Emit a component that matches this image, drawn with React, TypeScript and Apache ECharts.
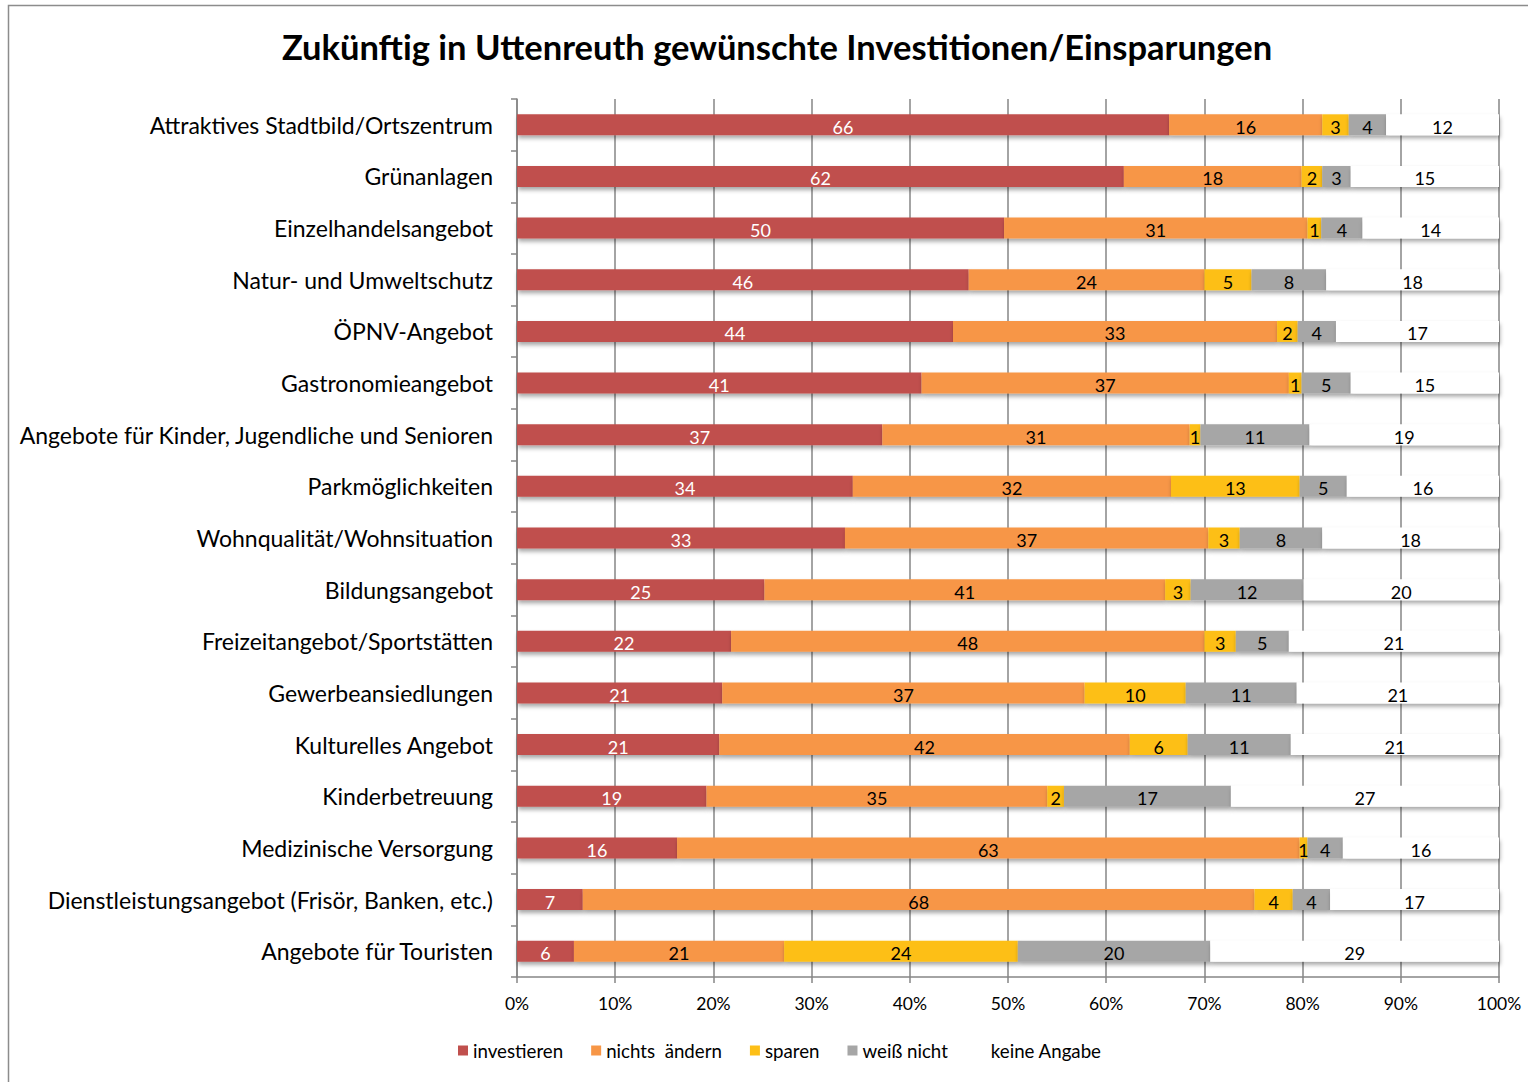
import React, { useEffect, useRef } from "react";
import * as echarts from "echarts";

const categories = [
  "Attraktives Stadtbild/Ortszentrum",
  "Grünanlagen",
  "Einzelhandelsangebot",
  "Natur- und Umweltschutz",
  "ÖPNV-Angebot",
  "Gastronomieangebot",
  "Angebote für Kinder, Jugendliche und Senioren",
  "Parkmöglichkeiten",
  "Wohnqualität/Wohnsituation",
  "Bildungsangebot",
  "Freizeitangebot/Sportstätten",
  "Gewerbeansiedlungen",
  "Kulturelles Angebot",
  "Kinderbetreuung",
  "Medizinische Versorgung",
  "Dienstleistungsangebot (Frisör, Banken, etc.)",
  "Angebote für Touristen",
];

const investieren = [66.4, 61.8, 49.6, 46.0, 44.4, 41.2, 37.2, 34.2, 33.4, 25.2, 21.8, 20.9, 20.6, 19.3, 16.3, 6.7, 5.8];
const nichtsAendern = [15.6, 18.1, 30.9, 24.0, 33.0, 37.4, 31.3, 32.4, 37.0, 40.8, 48.2, 36.9, 41.8, 34.7, 63.4, 68.4, 21.4];
const sparen = [2.7, 2.1, 1.4, 4.8, 2.1, 1.3, 1.1, 13.1, 3.2, 2.6, 3.2, 10.3, 5.9, 1.7, 0.8, 3.9, 23.8];
const weissNicht = [3.8, 2.9, 4.2, 7.6, 3.9, 5.0, 11.1, 4.8, 8.4, 11.5, 5.4, 11.3, 10.5, 17.0, 3.6, 3.8, 19.6];
const keineAngabe = [11.5, 15.1, 13.9, 17.6, 16.6, 15.1, 19.3, 15.5, 18.0, 19.9, 21.4, 20.6, 21.2, 27.3, 15.9, 17.2, 29.4];

const seriesNames = ["investieren", "nichts  ändern", "sparen", "weiß nicht", "keine Angabe"];
const seriesColors = ["#C0504D", "#F79646", "#FDBF17", "#A6A6A6", "#FFFFFF"];
const labelColors = ["#FFFFFF", "#000000", "#000000", "#000000", "#000000"];
const seriesData = [investieren, nichtsAendern, sparen, weissNicht, keineAngabe];

const FONT = "Lato";

export default function App() {
  const ref = useRef<HTMLDivElement>(null);

  useEffect(() => {
    if (!ref.current) return;
    const chart = echarts.init(ref.current, undefined, { renderer: "svg" });
    const gridColor = "#868686";
    chart.setOption({
      animation: false,
      backgroundColor: "#FFFFFF",
      textStyle: { fontFamily: FONT },
      title: {
        text: "Zukünftig in Uttenreuth gewünschte Investitionen/Einsparungen",
        left: 772,
        top: 24,
        textAlign: "center",
        textStyle: { fontFamily: FONT, fontSize: 34.5, fontWeight: "bold", color: "#000" },
      },
      graphic: [
        {
          type: "rect",
          shape: { x: 8.5, y: 5.5, width: 1700, height: 1300 },
          style: { fill: "none", stroke: "#8C8C8C", lineWidth: 1.5 },
          silent: true,
        },
      ],
      legend: {
        left: 458,
        top: 1041,
        padding: 0,
        icon: "rect",
        itemWidth: 10,
        itemHeight: 10,
        itemGap: 28,
        textStyle: { fontFamily: FONT, fontSize: 18.7, color: "#000" },
        data: seriesNames,
      },
      grid: { left: 517, right: 29, top: 99, bottom: 105, containLabel: false },
      xAxis: {
        type: "value",
        min: 0,
        max: 100,
        interval: 10,
        axisLine: { show: true, lineStyle: { color: gridColor, width: 1.5 } },
        axisTick: { show: true, length: 6, lineStyle: { color: gridColor, width: 1.5 } },
        splitLine: { show: true, lineStyle: { color: gridColor, width: 1.5 } },
        axisLabel: {
          formatter: "{value}%",
          fontFamily: FONT,
          fontSize: 17.5,
          color: "#000",
          margin: 17,
        },
      },
      yAxis: {
        type: "category",
        inverse: true,
        data: categories,
        axisLine: { show: true, lineStyle: { color: gridColor, width: 1.5 } },
        axisTick: { show: true, length: 6, lineStyle: { color: gridColor, width: 1.5 } },
        axisLabel: { fontFamily: FONT, fontSize: 23, color: "#000", margin: 24 },
      },
      series: seriesNames.map((name, i) => ({
        name,
        type: "bar",
        stack: "total",
        barWidth: 21,
        data: seriesData[i],
        itemStyle: {
          color: seriesColors[i],
          shadowBlur: 4,
          shadowColor: "rgba(0,0,0,0.35)",
          shadowOffsetX: 1,
          shadowOffsetY: 3,
        },
        label: {
          show: true,
          position: "inside",
          offset: [0, 2],
          fontFamily: FONT,
          fontSize: 18,
          color: labelColors[i],
          formatter: (p: any) => String(Math.round(p.value)),
        },
      })),
    });
    return () => chart.dispose();
  }, []);

  return (
    <div
      ref={ref}
      style={{ position: "absolute", left: 0, top: 0, width: 1528, height: 1082 }}
    />
  );
}
